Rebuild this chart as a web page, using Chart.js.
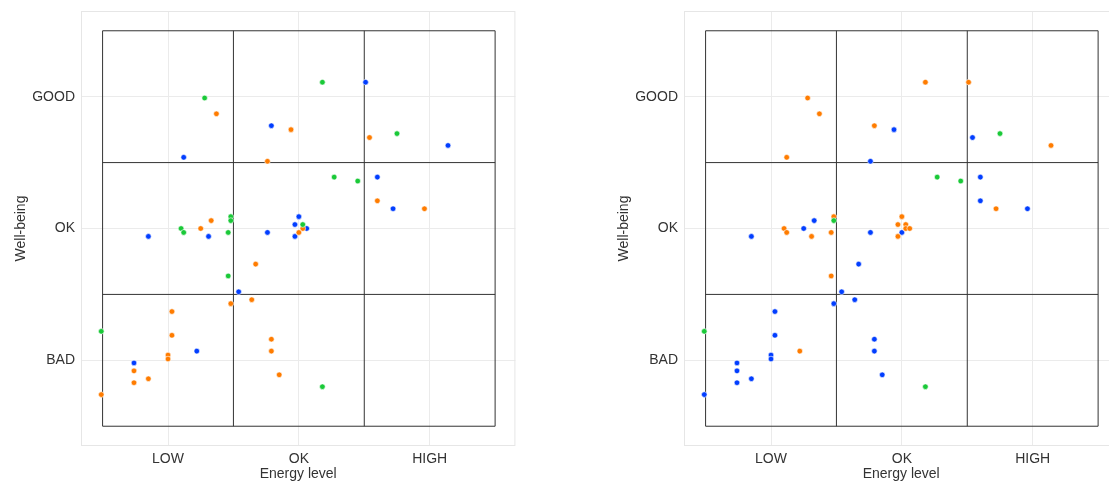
<!DOCTYPE html>
<html>
<head>
<meta charset="utf-8">
<script src="https://cdn.jsdelivr.net/npm/chart.js@4.4.0/dist/chart.umd.min.js"></script>
<style>
  html, body { margin: 0; padding: 0; background: #fff; overflow: hidden; width: 1109px; height: 483px; }
  #wrap { position: relative; width: 1109px; height: 483px; overflow: hidden; }
  canvas { position: absolute; top: 0; }
  #c1 { left: 0px; }
  #c2 { left: 603px; }
</style>
</head>
<body>
<div id="wrap">
  <canvas id="c1" width="520" height="483"></canvas>
  <canvas id="c2" width="520" height="483"></canvas>
</div>
<script>
// ---- tick labels / categories ----
const tickValues = [-1, 0, 1];
const energyTicks = ['LOW', 'OK', 'HIGH'];
const wellbeingTicks = ['BAD', 'OK', 'GOOD'];
const quadrantEdges = [-1.5, -0.5, 0.5, 1.5];
const xLimits = [-1.665, 1.655];
const yLimits = [-1.65, 1.65];

// ---- left panel series: [energy, well-being] ----
const leftBlue = [[-0.21,0.78],[-0.88,0.54],[0.00,0.09],[-0.03,0.03],[-0.24,-0.03],[-1.15,-0.06],[-0.69,-0.06],[-0.03,-0.06],[0.06,0.00],[-0.46,-0.48],[-0.78,-0.93],[-1.26,-1.02],[0.51,1.11],[1.14,0.63],[0.60,0.39],[0.72,0.15]];
const leftOrange = [[-0.63,0.87],[-0.06,0.75],[-0.24,0.51],[-0.67,0.06],[-0.75,0.00],[0.03,0.00],[0.00,-0.03],[-0.33,-0.27],[-0.52,-0.57],[-0.36,-0.54],[-0.97,-0.63],[-0.97,-0.81],[-0.21,-0.84],[-0.21,-0.93],[-1.00,-0.96],[-1.00,-0.99],[-1.26,-1.08],[-1.15,-1.14],[-1.26,-1.17],[-0.15,-1.11],[-1.51,-1.26],[0.54,0.69],[0.60,0.21],[0.96,0.15]];
const leftGreen = [[-0.72,0.99],[-0.52,0.09],[-0.52,0.06],[0.03,0.03],[-0.90,0.00],[-0.88,-0.03],[-0.54,-0.03],[-0.54,-0.36],[-1.51,-0.78],[0.18,1.11],[0.75,0.72],[0.27,0.39],[0.45,0.36],[0.18,-1.20]];

// ---- right panel series ----
const rightBlue = [[-0.06,0.75],[-0.24,0.51],[-0.67,0.06],[-0.75,0.00],[-0.24,-0.03],[-1.15,-0.06],[0.00,-0.03],[-0.33,-0.27],[-0.46,-0.48],[-0.52,-0.57],[-0.36,-0.54],[-0.97,-0.63],[-0.97,-0.81],[-0.21,-0.84],[-0.21,-0.93],[-1.00,-0.96],[-1.00,-0.99],[-1.26,-1.02],[-1.26,-1.08],[-1.15,-1.14],[-1.26,-1.17],[-0.15,-1.11],[-1.51,-1.26],[0.54,0.69],[0.60,0.39],[0.60,0.21],[0.96,0.15]];
const rightOrange = [[-0.72,0.99],[-0.63,0.87],[-0.21,0.78],[-0.88,0.54],[-0.52,0.09],[0.00,0.09],[-0.03,0.03],[0.03,0.03],[0.03,0.00],[0.06,0.00],[-0.90,0.00],[-0.88,-0.03],[-0.54,-0.03],[-0.69,-0.06],[-0.03,-0.06],[-0.54,-0.36],[-0.78,-0.93],[0.18,1.11],[0.51,1.11],[1.14,0.63],[0.72,0.15]];
const rightGreen = [[-0.52,0.06],[0.75,0.72],[0.27,0.39],[0.45,0.36],[-1.51,-0.78],[0.18,-1.20]];

const COLORS = { blue: '#023eff', orange: '#ff7c00', green: '#1ac938' };
const FONT = "'Liberation Sans', Arial, Helvetica, sans-serif";
const TEXT = '#333333';

function toPts(arr) { return arr.map(p => ({ x: p[0], y: p[1] })); }

function boxDatasets() {
  const lo = quadrantEdges[0], hi = quadrantEdges[quadrantEdges.length - 1];
  const ds = [];
  quadrantEdges.forEach(v => {
    ds.push({ type: 'scatter', data: [{ x: v, y: lo }, { x: v, y: hi }], showLine: true,
      borderColor: '#333333', borderWidth: 1, pointRadius: 0, order: 10, fill: false });
    ds.push({ type: 'scatter', data: [{ x: lo, y: v }, { x: hi, y: v }], showLine: true,
      borderColor: '#333333', borderWidth: 1, pointRadius: 0, order: 10, fill: false });
  });
  return ds;
}

function pointDataset(arr, color, order) {
  return { type: 'scatter', data: toPts(arr), backgroundColor: color, borderColor: '#ffffff',
    borderWidth: 0.6, pointRadius: 2.8, order: order };
}

const framePlugin = {
  id: 'frame',
  beforeDatasetsDraw(chart) {
    const a = chart.chartArea, ctx = chart.ctx;
    ctx.save();
    ctx.strokeStyle = '#e6e6e6';
    ctx.lineWidth = 1;
    ctx.strokeRect(a.left + 0.5, a.top + 0.5, a.right - a.left - 1, a.bottom - a.top - 1);
    ctx.restore();
  }
};

function makeChart(id, blue, orange, green) {
  const datasets = boxDatasets().concat([
    pointDataset(blue, COLORS.blue, 2),
    pointDataset(orange, COLORS.orange, 1),
    pointDataset(green, COLORS.green, 0)
  ]);
  return new Chart(document.getElementById(id), {
    type: 'scatter',
    data: { datasets },
    plugins: [framePlugin],
    options: {
      responsive: false,
      animation: false,
      devicePixelRatio: 1,
      layout: { padding: { top: 11, right: 3, left: 0, bottom: 0 } },
      plugins: { legend: { display: false }, tooltip: { enabled: false } },
      scales: {
        x: {
          type: 'linear', min: xLimits[0], max: xLimits[1],
          afterBuildTicks: s => { s.ticks = tickValues.map(v => ({ value: v })); },
          afterFit: s => { s.height = 37; s.paddingLeft = 0; s.paddingRight = 0; },
          ticks: { callback: (v) => energyTicks[tickValues.indexOf(v)], color: TEXT,
            font: { family: FONT, size: 14 }, padding: 5, maxRotation: 0, autoSkip: false },
          grid: { color: '#ebebeb', lineWidth: 1, drawTicks: false },
          border: { display: false },
          title: { display: true, text: 'Energy level', color: TEXT,
            font: { family: FONT, size: 14 }, padding: { top: 0, bottom: 0 } }
        },
        y: {
          type: 'linear', min: yLimits[0], max: yLimits[1],
          afterBuildTicks: s => { s.ticks = tickValues.map(v => ({ value: v })); },
          afterFit: s => { s.width = 81; s.paddingTop = 0; s.paddingBottom = 0; },
          ticks: { callback: (v) => wellbeingTicks[tickValues.indexOf(v)], color: TEXT,
            font: { family: FONT, size: 14 }, padding: 6, autoSkip: false },
          grid: { color: '#ebebeb', lineWidth: 1, drawTicks: false },
          border: { display: false },
          title: { display: true, text: 'Well-being', color: TEXT,
            font: { family: FONT, size: 14 }, padding: { top: 13, bottom: 0 } }
        }
      }
    }
  });
}

makeChart('c1', leftBlue, leftOrange, leftGreen);
makeChart('c2', rightBlue, rightOrange, rightGreen);
</script>
</body>
</html>
